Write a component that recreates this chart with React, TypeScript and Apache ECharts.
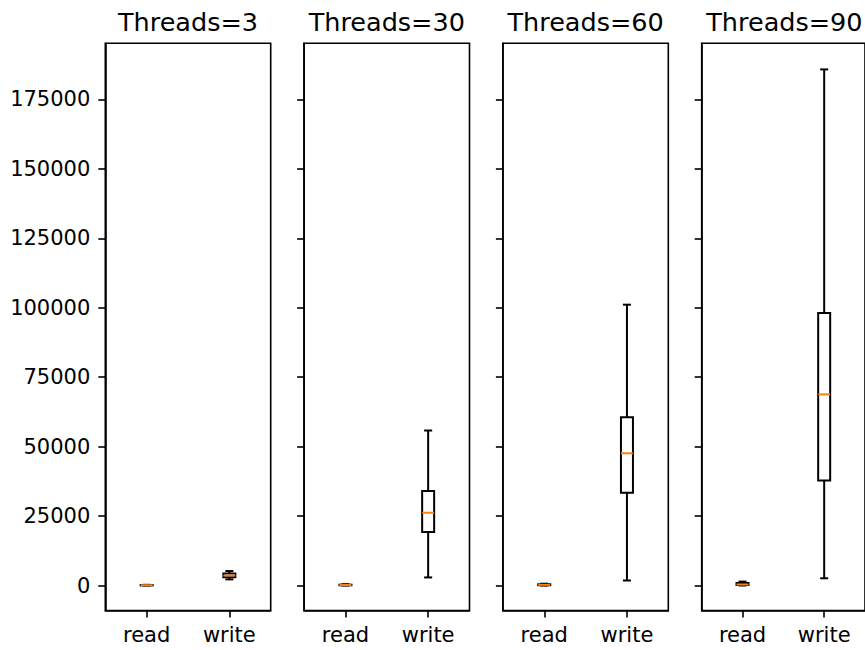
import React, { useEffect, useRef } from "react";
import * as echarts from "echarts";

const categories = ["read", "write"];
const threadCounts = [3, 30, 60, 90];
// [low whisker, q1, median, q3, high whisker]
const readStats = [
  [0, 40, 100, 160, 250],
  [0, 80, 180, 300, 450],
  [0, 100, 250, 450, 650],
  [0, 150, 350, 900, 1400],
];
const writeStats = [
  [2200, 3000, 3600, 4300, 5200],
  [2900, 19300, 26200, 34000, 55800],
  [1800, 33400, 47600, 60600, 101100],
  [2600, 37800, 68800, 98100, 185800],
];
const yTicks = [0, 25000, 50000, 75000, 100000, 125000, 150000, 175000];
const yMin = -9000;
const yMax = 195200;

const FONT = "DejaVu Sans";
const gridLefts = [105.3, 304.1, 502.9, 701.7];
const gridWidth = 165.4;
const gridTop = 43.3;
const gridHeight = 567.2;

export default function App() {
  const ref = useRef<HTMLDivElement>(null);
  useEffect(() => {
    if (!ref.current) return;
    const chart = echarts.init(ref.current, undefined, { renderer: "svg" });

    const grids = gridLefts.map((l) => ({
      left: l,
      top: gridTop,
      width: gridWidth,
      height: gridHeight,
      show: true,
      borderColor: "#000",
      borderWidth: 1.6,
      backgroundColor: "transparent",
      containLabel: false,
    }));

    const xAxes = gridLefts.map((_, i) => ({
      type: "category",
      gridIndex: i,
      data: categories,
      boundaryGap: true,
      axisLine: { show: true, onZero: false, lineStyle: { color: "#000", width: 1.6 } },
      axisTick: { show: true, alignWithLabel: true, length: 7, lineStyle: { color: "#000", width: 1.6 } },
      axisLabel: { show: true, color: "#000", fontSize: 21, fontFamily: FONT, margin: 14 },
      splitLine: { show: false },
    }));

    const yAxes = gridLefts.map((_, i) => ({
      type: "value",
      gridIndex: i,
      min: yMin,
      max: yMax,
      axisLine: { show: true, onZero: false, lineStyle: { color: "#000", width: 1.6 } },
      axisTick: {
        show: true,
        length: 7,
        customValues: yTicks,
        lineStyle: { color: "#000", width: 1.6 },
      },
      axisLabel: {
        show: i === 0,
        customValues: yTicks,
        formatter: (v: number) => String(v),
        color: "#000",
        fontSize: 21,
        fontFamily: FONT,
        margin: 15,
      },
      splitLine: { show: false },
    }));

    const renderItem = (params: any, api: any) => {
      const x = api.value(0);
      const low = api.coord([x, api.value(1)]);
      const q1 = api.coord([x, api.value(2)]);
      const med = api.coord([x, api.value(3)]);
      const q3 = api.coord([x, api.value(4)]);
      const high = api.coord([x, api.value(5)]);
      const cx = med[0];
      const bh = 6;
      const ch = 4;
      const stroke = { stroke: "#000", lineWidth: 2, fill: "none" };
      return {
        type: "group",
        children: [
          { type: "line", shape: { x1: cx, y1: low[1], x2: cx, y2: q1[1] }, style: stroke },
          { type: "line", shape: { x1: cx, y1: q3[1], x2: cx, y2: high[1] }, style: stroke },
          { type: "line", shape: { x1: cx - ch, y1: low[1], x2: cx + ch, y2: low[1] }, style: stroke },
          { type: "line", shape: { x1: cx - ch, y1: high[1], x2: cx + ch, y2: high[1] }, style: stroke },
          {
            type: "rect",
            shape: { x: cx - bh, y: q3[1], width: bh * 2, height: q1[1] - q3[1] },
            style: { stroke: "#000", lineWidth: 2, fill: "#fff" },
          },
          {
            type: "line",
            shape: { x1: cx - bh, y1: med[1], x2: cx + bh, y2: med[1] },
            style: { stroke: "#ff7f0e", lineWidth: 2 },
          },
        ],
      };
    };

    const series = threadCounts.map((_, i) => ({
      type: "custom",
      xAxisIndex: i,
      yAxisIndex: i,
      renderItem,
      clip: false,
      encode: { x: 0, y: [1, 2, 3, 4, 5] },
      data: [
        [0, ...readStats[i]],
        [1, ...writeStats[i]],
      ],
    }));

    const graphic = threadCounts.map((t, i) => ({
      type: "text",
      x: gridLefts[i] + gridWidth / 2,
      y: 22,
      style: {
        text: `Threads=${t}`,
        textAlign: "center",
        textVerticalAlign: "middle",
        fontSize: 25.5,
        fontFamily: FONT,
        fill: "#000",
      },
    }));

    chart.setOption({
      animation: false,
      backgroundColor: "#fff",
      grid: grids,
      xAxis: xAxes,
      yAxis: yAxes,
      series,
      graphic,
    } as any);

    return () => chart.dispose();
  }, []);

  return (
    <div
      ref={ref}
      style={{ position: "fixed", left: 0, top: 0, width: 865, height: 650 }}
    />
  );
}
